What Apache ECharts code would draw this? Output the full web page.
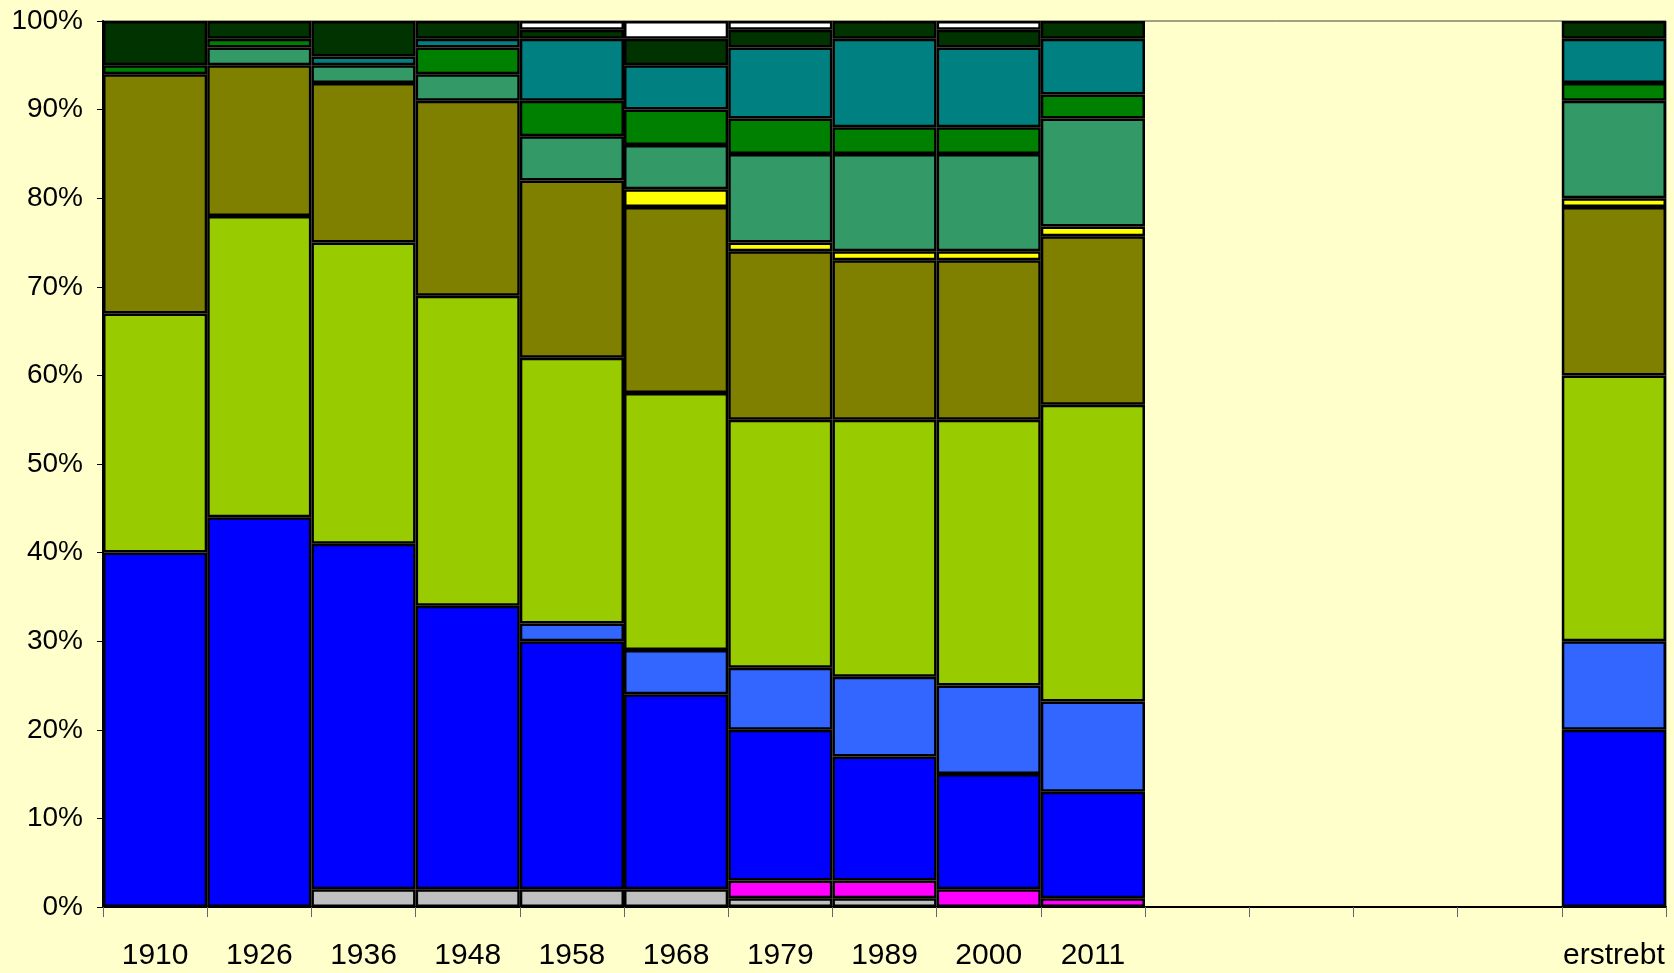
<!DOCTYPE html>
<html>
<head>
<meta charset="utf-8">
<script src="https://cdn.jsdelivr.net/npm/echarts@6/dist/echarts.min.js"></script>
<style>
html,body{margin:0;padding:0;background:#FFFFCC;}
#chart{width:1674px;height:973px;}
</style>
</head>
<body>
<div id="chart"></div>
<script>
var categories = ['1910','1926','1936','1948','1958','1968','1979','1989','2000','2011','','','','','erstrebt'];
var yTicks = [0,10,20,30,40,50,60,70,80,90,100];

var grau       = [null,null,2,2,2,2,1,1,null,null,null,null,null,null,null];
var magenta    = [null,null,null,null,null,null,2,2,2,1,null,null,null,null,null];
var blau       = [40,44,39,32,28,22,17,14,13,12,null,null,null,null,20];
var hellblau   = [null,null,null,null,2,5,7,9,10,10.2,null,null,null,null,10];
var gelbgruen  = [27,34,34,35,30,29,28,29,30,33.5,null,null,null,null,30];
var oliv       = [27,17,18,22,20,21,19,18,18,19,null,null,null,null,19];
var gelb       = [null,null,null,null,null,2,1,1,1,1.1,null,null,null,null,1];
var seegruen   = [null,2,2,3,5,5,10,11,11,12.2,null,null,null,null,11];
var gruen      = [1,1,null,3,4,4,4,3,3,2.7,null,null,null,null,2];
var petrol     = [null,null,1,1,7,5,8,10,9,6.3,null,null,null,null,5];
var dunkelgruen= [5,2,4,2,1,3,2,2,2,2,null,null,null,null,2];
var weiss      = [null,null,null,null,1,2,1,null,1,null,null,null,null,null,null];

var layers = [
  {name:'grau', data:grau, color:'#C0C0C0'},
  {name:'magenta', data:magenta, color:'#FF00FF'},
  {name:'blau', data:blau, color:'#0000FF'},
  {name:'hellblau', data:hellblau, color:'#3366FF'},
  {name:'gelbgruen', data:gelbgruen, color:'#99CC00'},
  {name:'oliv', data:oliv, color:'#808000'},
  {name:'gelb', data:gelb, color:'#FFFF00'},
  {name:'seegruen', data:seegruen, color:'#339966'},
  {name:'gruen', data:gruen, color:'#008000'},
  {name:'petrol', data:petrol, color:'#008080'},
  {name:'dunkelgruen', data:dunkelgruen, color:'#003300'},
  {name:'weiss', data:weiss, color:'#FFFFFF'}
];

var chart = echarts.init(document.getElementById('chart'), null, {renderer:'canvas'});
chart.setOption({
  backgroundColor:'#FFFFCC',
  animation:false,
  grid:{left:103,right:8,top:21,bottom:66,show:true,borderColor:'#404040',borderWidth:1,backgroundColor:'transparent'},
  xAxis:{
    type:'category',
    data:categories,
    boundaryGap:true,
    axisLine:{show:true,lineStyle:{color:'#000',width:2}},
    axisTick:{show:true,interval:0,length:10,lineStyle:{color:'#666',width:1}},
    axisLabel:{interval:0,margin:34,fontFamily:'Liberation Sans, Arial, sans-serif',fontSize:30,color:'#000'},
    splitLine:{show:false}
  },
  yAxis:{
    type:'value',
    min:0,max:100,interval:10,
    axisLine:{show:true,lineStyle:{color:'#000',width:2}},
    axisTick:{show:true,length:6,lineStyle:{color:'#000',width:1}},
    axisLabel:{formatter:'{value}%',margin:20,fontFamily:'Liberation Sans, Arial, sans-serif',fontSize:28,color:'#000'},
    splitLine:{show:false}
  },
  series:layers.map(function(l){
    return {
      name:l.name,type:'bar',stack:'total',
      data:l.data,
      barCategoryGap:'0%',
      itemStyle:{color:l.color,borderColor:'#000',borderWidth:2.5},
      emphasis:{disabled:true}
    };
  })
});
</script>
</body>
</html>
